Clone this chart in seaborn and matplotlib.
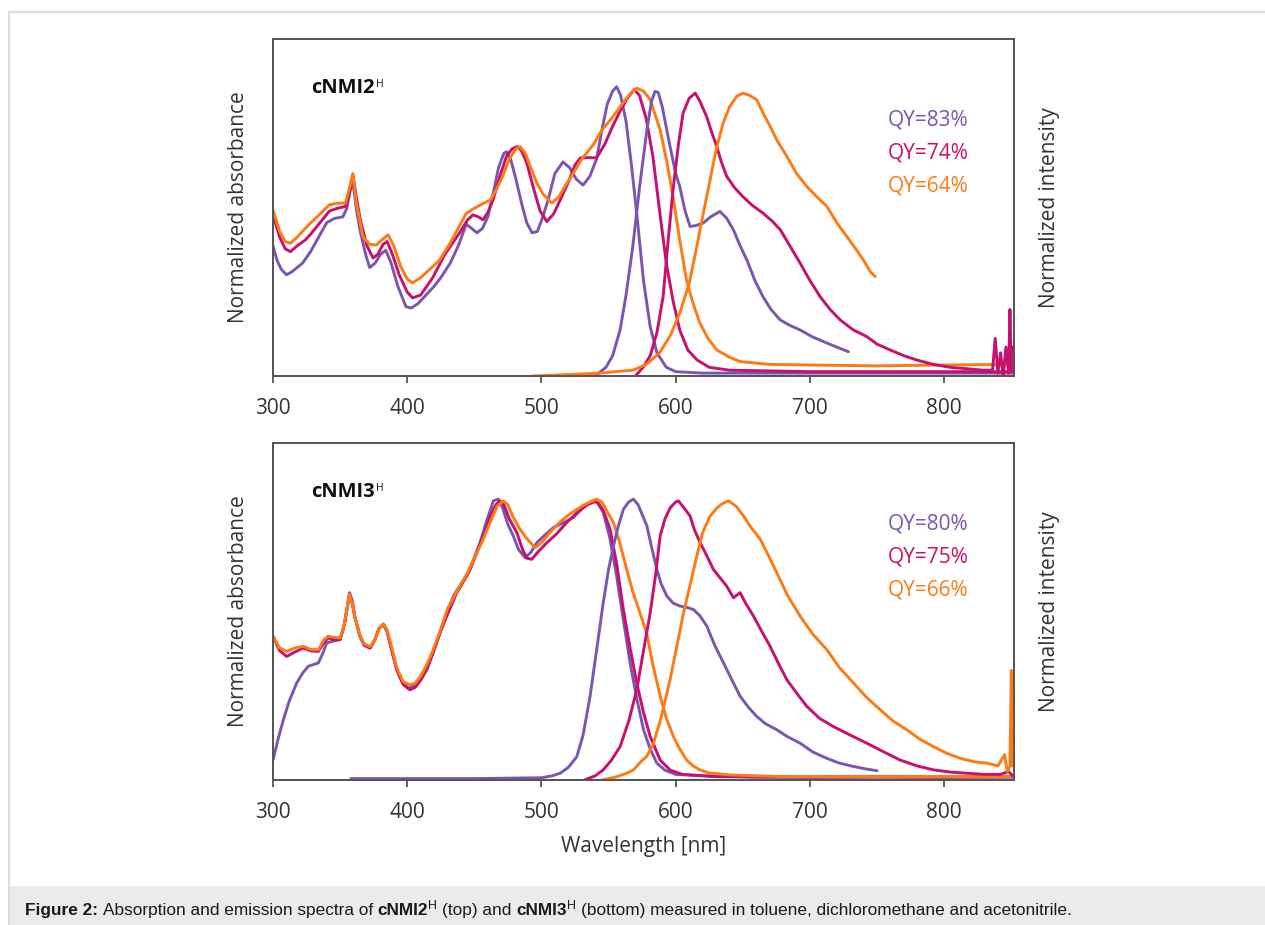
import matplotlib
matplotlib.use("Agg")
import matplotlib.pyplot as plt
import seaborn as sns
import pandas as pd
from matplotlib.lines import Line2D
from matplotlib.patches import Rectangle

# ---------------- data ----------------
XTICKS = [300, 400, 500, 600, 700, 800]
SOLVENT_COLORS = {"toluene": "#7b56b0", "dichloromethane": "#c8106e", "acetonitrile": "#ff7a12"}
QY_TOP = ["QY=83%", "QY=74%", "QY=64%"]
QY_BOT = ["QY=80%", "QY=75%", "QY=66%"]

# ---- top panel: cNMI2H ----
top_abs_tol_x = [300, 303, 306, 310, 314, 318, 322, 328, 334, 340, 346, 352, 355, 357.5, 359.5, 361, 362, 365, 369, 372, 376, 380, 384, 388, 393, 399, 403, 408, 415, 420, 425, 432, 438, 444, 448, 452, 456, 460, 464, 468, 472, 474, 477, 481, 485, 489, 493, 497, 501, 505, 510, 516, 521, 526, 531, 536, 541, 545, 549, 553, 556, 559, 563, 567, 571, 576, 581, 586, 593, 600, 620, 660, 700, 750, 800, 852]
top_abs_tol_y = [0.45, 0.40, 0.37, 0.35, 0.36, 0.375, 0.39, 0.43, 0.48, 0.53, 0.545, 0.55, 0.58, 0.64, 0.67, 0.62, 0.58, 0.50, 0.42, 0.375, 0.39, 0.42, 0.435, 0.39, 0.31, 0.24, 0.235, 0.25, 0.285, 0.31, 0.34, 0.39, 0.45, 0.525, 0.51, 0.495, 0.51, 0.55, 0.63, 0.72, 0.77, 0.775, 0.75, 0.68, 0.60, 0.53, 0.495, 0.50, 0.55, 0.61, 0.70, 0.74, 0.72, 0.68, 0.66, 0.69, 0.75, 0.85, 0.94, 0.985, 1.0, 0.97, 0.88, 0.73, 0.56, 0.33, 0.17, 0.08, 0.03, 0.015, 0.01, 0.01, 0.01, 0.01, 0.01, 0.01]

top_abs_dcm_x = [300, 305, 309, 313, 318, 324, 328, 335, 342, 348, 354, 357, 359.5, 362, 365, 370, 374.5, 378, 382, 385, 389, 394, 400, 404, 410, 419, 428, 439, 445, 449, 453, 456.5, 460, 464, 469, 474, 478, 482, 485, 489, 494, 499, 504, 509, 514, 520, 525, 529, 535, 541, 547, 553, 559, 564, 569, 573, 578, 583, 588, 593, 598, 603, 609, 616, 625, 640, 700, 760, 852]
top_abs_dcm_y = [0.557, 0.48, 0.44, 0.43, 0.45, 0.47, 0.49, 0.53, 0.57, 0.58, 0.586, 0.64, 0.695, 0.62, 0.54, 0.45, 0.408, 0.42, 0.455, 0.465, 0.42, 0.35, 0.29, 0.27, 0.28, 0.34, 0.42, 0.495, 0.54, 0.557, 0.55, 0.54, 0.565, 0.61, 0.69, 0.76, 0.785, 0.793, 0.78, 0.737, 0.65, 0.57, 0.534, 0.56, 0.609, 0.67, 0.73, 0.754, 0.755, 0.754, 0.80, 0.863, 0.92, 0.96, 0.99, 0.97, 0.89, 0.759, 0.57, 0.39, 0.26, 0.159, 0.09, 0.055, 0.03, 0.02, 0.015, 0.015, 0.015]

top_abs_acn_x = [300, 305, 309, 313, 318, 324, 328, 335, 342, 348, 354, 357, 359.5, 362, 367, 372, 377, 381, 385.7, 390, 395, 400, 404, 410, 417, 424, 432, 439, 444, 450, 456, 462, 467, 471, 476, 481, 484, 488, 492, 496.5, 501, 507.7, 513, 518, 523.6, 530, 538.5, 545, 553.4, 560, 566, 571, 576, 581, 588.4, 593, 598, 603, 608, 613, 618, 624, 630.6, 640, 648, 670, 700, 750, 800, 852]
top_abs_acn_y = [0.574, 0.50, 0.465, 0.459, 0.48, 0.51, 0.529, 0.56, 0.592, 0.597, 0.598, 0.65, 0.70, 0.60, 0.482, 0.455, 0.453, 0.47, 0.488, 0.45, 0.38, 0.335, 0.322, 0.34, 0.37, 0.40, 0.46, 0.52, 0.563, 0.58, 0.595, 0.609, 0.65, 0.69, 0.75, 0.785, 0.793, 0.77, 0.72, 0.668, 0.63, 0.598, 0.62, 0.66, 0.70, 0.75, 0.799, 0.85, 0.897, 0.94, 0.975, 0.995, 0.985, 0.955, 0.851, 0.75, 0.62, 0.47, 0.332, 0.25, 0.183, 0.13, 0.09, 0.065, 0.05, 0.04, 0.038, 0.035, 0.038, 0.04]

top_em_tol_x = [540, 548, 553, 558.6, 563, 568, 573, 578.5, 582, 584.6, 587, 590, 595.8, 600, 603, 607, 610.7, 615, 620.5, 626, 633, 638, 643, 648, 653, 659, 665, 671, 677.8, 685, 692.7, 702, 712.6, 720, 728.6]
top_em_tol_y = [0.0, 0.03, 0.07, 0.16, 0.28, 0.447, 0.65, 0.85, 0.95, 0.984, 0.98, 0.93, 0.793, 0.70, 0.655, 0.57, 0.517, 0.52, 0.529, 0.55, 0.569, 0.545, 0.505, 0.45, 0.401, 0.33, 0.274, 0.23, 0.194, 0.175, 0.159, 0.135, 0.114, 0.10, 0.084]

top_em_dcm_x = [570, 575.7, 581, 586, 590.6, 594, 598, 602, 605.5, 610, 614.5, 618, 623, 627, 630.6, 634, 638, 644, 650, 657, 665, 672, 678, 685, 692.7, 700, 707.6, 715, 722.5, 732, 742.4, 750, 759.8, 770, 779.7, 792, 804.5, 817, 829, 836, 838, 840, 842, 844, 846, 848, 849, 850, 851, 852]
top_em_dcm_y = [0.0, 0.03, 0.07, 0.15, 0.274, 0.45, 0.644, 0.80, 0.909, 0.96, 0.978, 0.95, 0.897, 0.84, 0.793, 0.74, 0.69, 0.65, 0.62, 0.59, 0.563, 0.535, 0.505, 0.45, 0.39, 0.33, 0.274, 0.23, 0.194, 0.16, 0.136, 0.11, 0.09, 0.07, 0.055, 0.04, 0.03, 0.025, 0.02, 0.02, 0.13, 0.01, 0.08, 0.0, 0.10, 0.01, 0.23, 0.02, 0.10, 0.03]

top_em_acn_x = [493, 520, 543.7, 555, 568, 578, 588, 596, 603, 610, 615.7, 620, 625.6, 630, 635.3, 640, 645.5, 650, 655, 660.4, 665, 670.3, 676, 682.8, 690, 697.7, 705, 712.6, 720, 727.5, 734, 739.8, 745, 748.6]
top_em_acn_y = [0.0, 0.005, 0.01, 0.015, 0.02, 0.04, 0.08, 0.14, 0.217, 0.32, 0.447, 0.55, 0.678, 0.78, 0.874, 0.93, 0.967, 0.978, 0.97, 0.955, 0.91, 0.863, 0.81, 0.759, 0.70, 0.655, 0.62, 0.586, 0.53, 0.482, 0.44, 0.401, 0.36, 0.344]

# ---- bottom panel: cNMI3H ----
bot_abs_tol_x = [300, 304, 307.7, 312, 317.6, 322, 326.3, 333.8, 337, 340, 345, 350, 353, 355.5, 357, 359, 361, 364.8, 368, 372.3, 376, 379, 382.2, 385, 388, 392.2, 396, 400.8, 405, 409, 414.5, 419, 424.4, 429, 434.4, 439, 444.3, 449, 454.2, 459, 464.2, 467.9, 471, 475, 479, 483, 487.8, 492, 496.5, 502, 508.9, 516, 523.8, 531, 538.7, 542, 546.1, 551, 556, 561, 566, 571, 576, 581, 586, 592, 600, 620, 660, 700, 750, 800, 852]
bot_abs_tol_y = [0.071, 0.15, 0.214, 0.28, 0.345, 0.38, 0.405, 0.417, 0.45, 0.488, 0.495, 0.50, 0.55, 0.62, 0.667, 0.64, 0.58, 0.512, 0.48, 0.47, 0.50, 0.54, 0.554, 0.53, 0.47, 0.393, 0.35, 0.327, 0.335, 0.36, 0.393, 0.45, 0.524, 0.59, 0.655, 0.69, 0.726, 0.78, 0.845, 0.92, 0.994, 1.0, 0.97, 0.91, 0.869, 0.82, 0.792, 0.81, 0.845, 0.87, 0.899, 0.915, 0.935, 0.97, 0.994, 0.985, 0.952, 0.86, 0.726, 0.57, 0.417, 0.29, 0.179, 0.11, 0.06, 0.035, 0.02, 0.015, 0.01, 0.01, 0.012, 0.01, 0.01]

bot_abs_dcm_x = [300, 305, 310.2, 316, 322.6, 328, 333.8, 338, 341.2, 345, 350, 353, 355.5, 357, 359, 361, 364.8, 368, 372.3, 376, 379, 382.2, 385, 388, 392.2, 397, 402, 406, 410, 414.5, 419, 424.4, 430, 436.9, 441, 446.8, 451, 456.7, 462, 466, 469.1, 472, 476, 481.6, 486, 489, 492.8, 497, 504, 511, 518.8, 526, 534, 541.2, 546, 551.1, 556, 561, 566, 571, 576, 581, 588.4, 596, 605, 630, 700, 800, 852]
bot_abs_dcm_y = [0.512, 0.46, 0.44, 0.455, 0.47, 0.46, 0.458, 0.49, 0.506, 0.50, 0.50, 0.55, 0.62, 0.661, 0.63, 0.58, 0.512, 0.48, 0.47, 0.50, 0.54, 0.554, 0.53, 0.47, 0.393, 0.34, 0.321, 0.33, 0.355, 0.393, 0.45, 0.524, 0.59, 0.667, 0.70, 0.75, 0.80, 0.869, 0.94, 0.98, 0.994, 0.98, 0.93, 0.881, 0.82, 0.79, 0.786, 0.81, 0.845, 0.875, 0.917, 0.95, 0.98, 0.994, 0.96, 0.893, 0.77, 0.607, 0.47, 0.345, 0.24, 0.155, 0.071, 0.035, 0.02, 0.012, 0.01, 0.01, 0.012]

bot_abs_acn_x = [300, 305, 310.2, 316, 322.6, 328, 333.8, 338, 341.2, 345, 350, 353, 355.5, 357, 359, 361, 364.8, 368, 372.3, 376, 379, 382.2, 385, 388, 392.2, 397, 402, 406, 410, 414.5, 419, 424.4, 430, 439, 444, 450, 456, 462, 467, 471.6, 475, 479, 484, 489, 495.2, 500, 506.4, 514, 522, 530, 536, 541, 545, 549, 553.6, 558, 563.5, 568, 573, 578.5, 583, 588.4, 593, 598.3, 603, 608.2, 613, 618, 625, 640, 680, 750, 852]
bot_abs_acn_y = [0.512, 0.47, 0.458, 0.47, 0.476, 0.465, 0.464, 0.50, 0.512, 0.508, 0.506, 0.55, 0.62, 0.661, 0.63, 0.58, 0.515, 0.485, 0.475, 0.50, 0.54, 0.556, 0.535, 0.48, 0.40, 0.35, 0.339, 0.345, 0.37, 0.41, 0.46, 0.53, 0.61, 0.69, 0.73, 0.79, 0.85, 0.92, 0.975, 0.994, 0.98, 0.935, 0.893, 0.86, 0.827, 0.845, 0.881, 0.92, 0.95, 0.975, 0.99, 1.0, 0.99, 0.955, 0.917, 0.85, 0.75, 0.67, 0.60, 0.52, 0.41, 0.30, 0.22, 0.155, 0.11, 0.071, 0.05, 0.036, 0.025, 0.018, 0.012, 0.012, 0.012]

bot_em_tol_x = [358, 400, 450, 500, 508, 513.9, 520, 526.3, 531, 536.2, 541, 546, 550, 553.6, 557, 561, 565, 568.5, 572, 578.5, 582, 586, 589, 593.4, 598, 603.3, 608, 613.2, 618, 623.2, 629, 635.6, 642, 648, 654, 660.4, 667, 675.3, 683, 692.7, 702, 712.6, 722, 732.5, 741, 750]
bot_em_tol_y = [0.005, 0.005, 0.005, 0.008, 0.015, 0.024, 0.045, 0.083, 0.16, 0.298, 0.46, 0.631, 0.75, 0.833, 0.90, 0.964, 0.99, 1.0, 0.98, 0.905, 0.83, 0.75, 0.70, 0.655, 0.63, 0.619, 0.615, 0.607, 0.585, 0.548, 0.48, 0.417, 0.355, 0.298, 0.26, 0.226, 0.20, 0.179, 0.155, 0.131, 0.10, 0.077, 0.06, 0.048, 0.04, 0.033]

bot_em_dcm_x = [532, 540, 546, 552, 558.6, 565, 571, 576, 581, 585, 588.4, 592, 596, 600, 602, 606, 610.7, 614, 618.2, 623, 628, 633, 638, 643, 646, 648, 652, 658, 664, 670.3, 676, 682.8, 690, 697.7, 707, 717.5, 730, 742.4, 755, 767.2, 780, 792, 805, 817, 830, 841.7, 848, 852]
bot_em_dcm_y = [0.0, 0.015, 0.036, 0.07, 0.119, 0.21, 0.321, 0.46, 0.595, 0.73, 0.869, 0.93, 0.97, 0.99, 0.994, 0.97, 0.94, 0.89, 0.845, 0.80, 0.75, 0.72, 0.69, 0.649, 0.66, 0.667, 0.63, 0.583, 0.53, 0.476, 0.42, 0.357, 0.31, 0.262, 0.22, 0.19, 0.16, 0.131, 0.10, 0.071, 0.05, 0.036, 0.028, 0.024, 0.02, 0.02, 0.03, 0.01]

bot_em_acn_x = [545, 555, 563.5, 568.5, 573, 578.5, 583.4, 589, 595.8, 601, 605.8, 611, 615.7, 620, 625.6, 631, 635, 639.3, 645, 650.5, 656, 663, 669, 675.3, 683, 692.7, 702, 712.6, 722, 732.5, 742, 752.3, 762, 772, 782, 792, 802, 812, 822, 832, 840, 845, 847, 849, 850, 851, 852]
bot_em_acn_y = [0.0, 0.01, 0.024, 0.036, 0.06, 0.085, 0.13, 0.22, 0.357, 0.48, 0.595, 0.70, 0.798, 0.88, 0.94, 0.97, 0.985, 0.994, 0.975, 0.94, 0.90, 0.857, 0.80, 0.738, 0.66, 0.583, 0.52, 0.464, 0.40, 0.345, 0.295, 0.25, 0.21, 0.179, 0.145, 0.119, 0.095, 0.077, 0.065, 0.06, 0.05, 0.09, 0.03, 0.048, 0.39, 0.05, 0.06]

PANELS = [
    {"name": "cNMI2", "qy": QY_TOP,
     "abs": [("toluene", top_abs_tol_x, top_abs_tol_y), ("dichloromethane", top_abs_dcm_x, top_abs_dcm_y), ("acetonitrile", top_abs_acn_x, top_abs_acn_y)],
     "em": [("toluene", top_em_tol_x, top_em_tol_y), ("dichloromethane", top_em_dcm_x, top_em_dcm_y), ("acetonitrile", top_em_acn_x, top_em_acn_y)]},
    {"name": "cNMI3", "qy": QY_BOT,
     "abs": [("toluene", bot_abs_tol_x, bot_abs_tol_y), ("dichloromethane", bot_abs_dcm_x, bot_abs_dcm_y), ("acetonitrile", bot_abs_acn_x, bot_abs_acn_y)],
     "em": [("toluene", bot_em_tol_x, bot_em_tol_y), ("dichloromethane", bot_em_dcm_x, bot_em_dcm_y), ("acetonitrile", bot_em_acn_x, bot_em_acn_y)]},
]

# ---------------- figure ----------------
sns.set_theme(style="white")
plt.rcParams['font.family'] = ['Open Sans', 'DejaVu Sans']

W, H = 1265, 925
fig = plt.figure(figsize=(W / 100, H / 100), dpi=100)
fig.patch.set_facecolor("white")

def fx(px):
    return px / W

def fy(py):
    return 1 - py / H

# page frame and caption band
fig.add_artist(Line2D([fx(9), 1], [fy(12), fy(12)], color="#dcdcdc", lw=1.6))
fig.add_artist(Line2D([fx(9), fx(9)], [fy(12), 0], color="#dcdcdc", lw=1.6))
fig.add_artist(Rectangle((fx(9), 0), 1 - fx(9), fy(886), color="#ebebeb", lw=0))

TEXT = "#333333"
SPINE = "#555555"
YLIMS = [(0, 1.165), (0, 1.2)]
AX_TOPS = [39, 443]
AX_H = 337
AX_L, AX_R = 273, 1014
axes = []
for i, panel in enumerate(PANELS):
    top = AX_TOPS[i]
    ax = fig.add_axes([fx(AX_L), fy(top + AX_H), fx(AX_R) - fx(AX_L), AX_H / H])
    ax2 = ax.twinx()
    for solvent, xs, ys in panel["abs"]:
        sns.lineplot(x=xs, y=ys, ax=ax, color=SOLVENT_COLORS[solvent], lw=2.1, sort=False, estimator=None, legend=False)
    for solvent, xs, ys in panel["em"]:
        sns.lineplot(x=xs, y=ys, ax=ax2, color=SOLVENT_COLORS[solvent], lw=2.1, sort=False, estimator=None, legend=False)
    for a in (ax, ax2):
        a.set_xlim(300, 852)
        a.set_ylim(*YLIMS[i])
        a.set_yticks([])
        a.set_ylabel("")
        for s in a.spines.values():
            s.set_color(SPINE)
            s.set_linewidth(1.3)
    ax.set_xticks(XTICKS)
    ax.set_xticklabels([str(t) for t in XTICKS])
    ax.tick_params(axis="x", direction="out", length=5, width=1.3, color=SPINE, labelsize=15, labelcolor=TEXT, pad=11, bottom=True)
    ax.text(-35 / 741, 0.5, "Normalized absorbance", transform=ax.transAxes, rotation=90, ha="center", va="center", fontsize=15, color=TEXT)
    ax.text(1 + 36 / 741, 0.5, "Normalized intensity", transform=ax.transAxes, rotation=90, ha="center", va="center", fontsize=15, color=TEXT)
    cols = [SOLVENT_COLORS["toluene"], SOLVENT_COLORS["dichloromethane"], SOLVENT_COLORS["acetonitrile"]]
    for k, (q, c) in enumerate(zip(panel["qy"], cols)):
        ax.text((888 - AX_L) / 741, (AX_H - (81 + 33 * k)) / AX_H, q, transform=ax.transAxes, ha="left", va="center", fontsize=15, color=c)
    axes.append((ax, panel["name"]))

ax_bottom = axes[-1][0]
ax_bottom.text(0.5, -(846 - 780) / AX_H, "Wavelength [nm]", transform=ax_bottom.transAxes, ha="center", va="center", fontsize=15, color=TEXT)

renderer = fig.canvas.get_renderer()

# compound names with superscript H
for (ax, name), top in zip(axes, AX_TOPS):
    base_py = top + 53.7
    t = fig.text(fx(311), fy(base_py), name, fontsize=14.5, fontweight="bold", color="#111111", va="baseline", ha="left")
    bb = t.get_window_extent(renderer)
    fig.text((bb.x1 + 1.5) / W, fy(base_py - 5.5), "H", fontsize=7.5, color="#111111", va="baseline", ha="left")

# caption
CAP_FONT = ["Liberation Sans", "DejaVu Sans"]
cap_size = 12.4
space = 0.278 * cap_size * 100 / 72
chunks = [
    ("Figure 2:", "bold", 1.0, 0, 0),
    ("Absorption and emission spectra of", "normal", 1.0, 0, 1),
    ("cNMI2", "bold", 1.0, 0, 1),
    ("H", "normal", 0.72, 6, 0),
    ("(top) and", "normal", 1.0, 0, 1),
    ("cNMI3", "bold", 1.0, 0, 1),
    ("H", "normal", 0.72, 6, 0),
    ("(bottom) measured in toluene, dichloromethane and acetonitrile.", "normal", 1.0, 0, 1),
]
x_px = 25
base_py = 915
for txt, weight, scale, rise, gap in chunks:
    x_px += gap * space
    t = fig.text(fx(x_px), fy(base_py - rise), txt, fontsize=cap_size * scale, fontweight=weight,
                 family=CAP_FONT, color="#1a1a1a", va="baseline", ha="left")
    bb = t.get_window_extent(renderer)
    x_px = bb.x1 + (0.5 if rise else 0)

fig.savefig("out.png", dpi=100, facecolor="white")
